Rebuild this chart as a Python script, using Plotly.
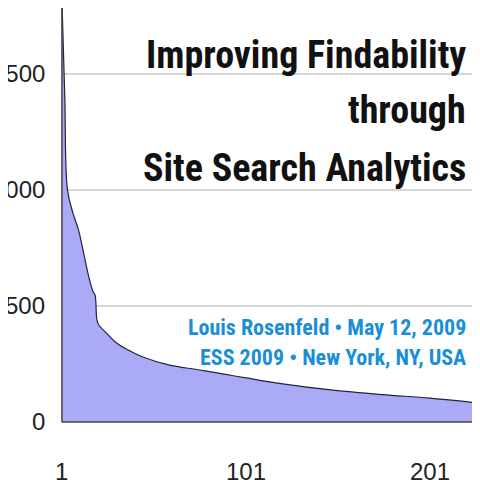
import plotly.graph_objects as go

# query rank vs. search count
ranks = [1, 2, 2.6, 4, 7, 10, 13, 16, 18, 19, 20, 21, 25, 30, 37, 45, 59, 75, 90, 101, 120, 147, 175, 201, 228, 240]
counts = [1819, 1550, 1388, 1000, 900, 828, 720, 612, 560, 547, 440, 418, 385, 345, 310, 280, 246, 225, 205, 190, 165, 138, 118, 103, 82, 78]

y_ticks = [0, 500, 1000, 1500]
x_ticks = [1, 101, 201]

fig = go.Figure()
fig.add_trace(go.Scatter(
    x=ranks, y=counts, mode="lines", fill="tozeroy",
    line=dict(color="#222244", width=1.2, shape="spline"),
    fillcolor="#aaaaf6", hoverinfo="skip",
))

for v in y_ticks[1:]:
    fig.add_shape(type="line", x0=1, x1=240, y0=v, y1=v, line=dict(color="#c8c8c8", width=1.5), layer="below")
fig.add_shape(type="line", x0=1, x1=1, y0=0, y1=1900, line=dict(color="#444", width=1.5))
fig.add_shape(type="line", x0=1, x1=240, y0=0, y1=0, line=dict(color="#444", width=1.5))

tick_font = dict(family="Liberation Sans, Arial", size=24, color="#222")
for v in y_ticks:
    fig.add_annotation(x=-7, y=v, text=str(v), showarrow=False, xanchor="right", font=tick_font)
for v in x_ticks:
    fig.add_annotation(x=v, y=-215, text=str(v), showarrow=False, font=tick_font)

title_font = dict(family="Liberation Sans Narrow, Roboto Condensed, Arial Narrow", size=38, color="#111")
for txt, yp in [("<b>Improving Findability</b>", 55), ("<b>through</b>", 110), ("<b>Site Search Analytics</b>", 168)]:
    fig.add_annotation(x=(468 - 8) / 480, y=(480 - yp + 8) / 480, xref="paper", yref="paper", text=txt,
                       showarrow=False, xanchor="right", yanchor="middle", font=title_font)
sub_font = dict(family="Liberation Sans Narrow, Roboto Condensed, Arial Narrow", size=22, color="#1a8fd8")
for txt, yp in [("<b>Louis Rosenfeld • May 12, 2009</b>", 327), ("<b>ESS 2009 • New York, NY, USA</b>", 357)]:
    fig.add_annotation(x=(468 - 8) / 480, y=(480 - yp + 8) / 480, xref="paper", yref="paper", text=txt,
                       showarrow=False, xanchor="right", yanchor="middle", font=sub_font)

fig.update_layout(
    width=480, height=480, margin=dict(l=0, r=0, t=0, b=0),
    paper_bgcolor="white", plot_bgcolor="white", showlegend=False,
    xaxis=dict(range=[-28.3, 232.5], visible=False),
    yaxis=dict(range=[-284.5, 1784], visible=False),
)

fig.write_html("out.html")
